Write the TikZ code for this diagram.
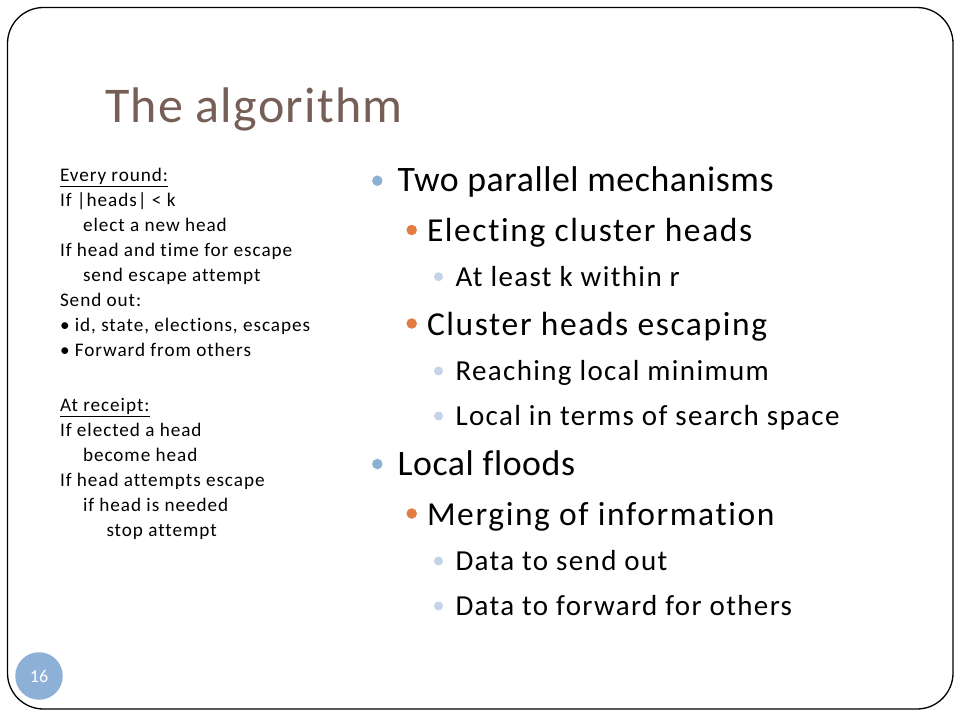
\documentclass[tikz,border=0pt]{standalone}
\usepackage{fontspec}
\setmainfont{Carlito}[Ligatures=NoCommon]
\newfontfamily\fTitle{Carlito}[Ligatures=NoCommon, LetterSpace=2.6]
\newfontfamily\fA{Carlito}[Ligatures=NoCommon, LetterSpace=1.6]
\newfontfamily\fB{Carlito}[Ligatures=NoCommon, LetterSpace=4.8]
\newfontfamily\fC{Carlito}[Ligatures=NoCommon, LetterSpace=4.7]
\newfontfamily\fL{Carlito}[Ligatures=NoCommon, LetterSpace=4.9]
\definecolor{titlec}{RGB}{118,95,86}
\definecolor{bulA}{RGB}{142,176,212}
\definecolor{bulB}{RGB}{226,124,66}
\definecolor{bulC}{RGB}{196,212,232}
\definecolor{pagec}{RGB}{141,176,214}
\tikzset{
  txt/.style={anchor=base west, inner sep=0pt, outer sep=0pt},
  lefttxt/.style={txt, font=\fL\fontsize{19.2}{22}\selectfont},
  lvA/.style={txt, font=\fA\fontsize{35.8}{40}\selectfont},
  lvB/.style={txt, font=\fB\fontsize{33.5}{36}\selectfont},
  lvC/.style={txt, font=\fC\fontsize{29}{32}\selectfont},
  dotA/.style={circle, fill=bulA, inner sep=0pt, minimum size=10.5pt},
  dotB/.style={circle, fill=bulB, inner sep=0pt, minimum size=10.5pt},
  dotC/.style={circle, fill=bulC, inner sep=0pt, minimum size=9pt},
}
\begin{document}
\begin{tikzpicture}[x=1pt,y=-1pt]
\useasboundingbox (0,0) rectangle (960,720);
\fill[white] (0,0) rectangle (960,720);
\draw[line width=1.3pt, rounded corners=36pt] (7.5,7.5) rectangle (953,709);
% title
\node[txt, text=titlec, font=\fTitle\fontsize{50}{54}\selectfont] (title) at (105,122) {The algorithm};
% left text
\node[lefttxt] (l1) at (60,181.7) {\underline{Every round:}};
\node[lefttxt] (l2) at (60,206.7) {If |heads| < k};
\node[lefttxt] (l3) at (83,231.7) {elect a new head};
\node[lefttxt] (l4) at (60,256.7) {If head and time for escape};
\node[lefttxt] (l5) at (83,281.7) {send escape attempt};
\node[lefttxt] (l6) at (60,306.7) {Send out:};
\node[lefttxt] (l7) at (60,331.7) {• id, state, elections, escapes};
\node[lefttxt] (l8) at (60,356.7) {• Forward from others};
\node[lefttxt] (l9) at (60,411.7) {\underline{At receipt:}};
\node[lefttxt] (l10) at (60,436.7) {If elected a head};
\node[lefttxt] (l11) at (83,461.7) {become head};
\node[lefttxt] (l12) at (60,486.7) {If head attempts escape};
\node[lefttxt] (l13) at (83,511.7) {if head is needed};
\node[lefttxt] (l14) at (106.5,536.7) {stop attempt};
% right bullets
\node[dotA] (d1) at (377.3,180.7) {};
\node[lvA] (r1) at (397.5,191.7) {Two parallel mechanisms};
\node[dotB] (d2) at (411.7,230) {};
\node[lvB] (r2) at (427,241.7) {Electing cluster heads};
\node[dotC] (d3) at (438.5,276.7) {};
\node[lvC] (r3) at (455.5,286) {At least k within r};
\node[dotB] (d4) at (411.7,323.5) {};
\node[lvB] (r4) at (427,335) {Cluster heads escaping};
\node[dotC] (d5) at (438.5,371) {};
\node[lvC] (r5) at (455.5,380) {Reaching local minimum};
\node[dotC] (d6) at (438.5,416) {};
\node[lvC] (r6) at (455.5,425) {Local in terms of search space};
\node[dotA] (d7) at (377.3,464) {};
\node[lvA] (r7) at (397.5,475) {Local floods};
\node[dotB] (d8) at (411.7,513.5) {};
\node[lvB] (r8) at (427,525) {Merging of information};
\node[dotC] (d9) at (438.5,561) {};
\node[lvC] (r9) at (455.5,570) {Data to send out};
\node[dotC] (d10) at (438.5,606) {};
\node[lvC] (r10) at (455.5,615) {Data to forward for others};
% page number
\node[circle, fill=pagec, minimum size=47.5pt, inner sep=0pt, text=white, font=\fontsize{18}{20}\selectfont] (page) at (39,676) {16};
\end{tikzpicture}
\end{document}
